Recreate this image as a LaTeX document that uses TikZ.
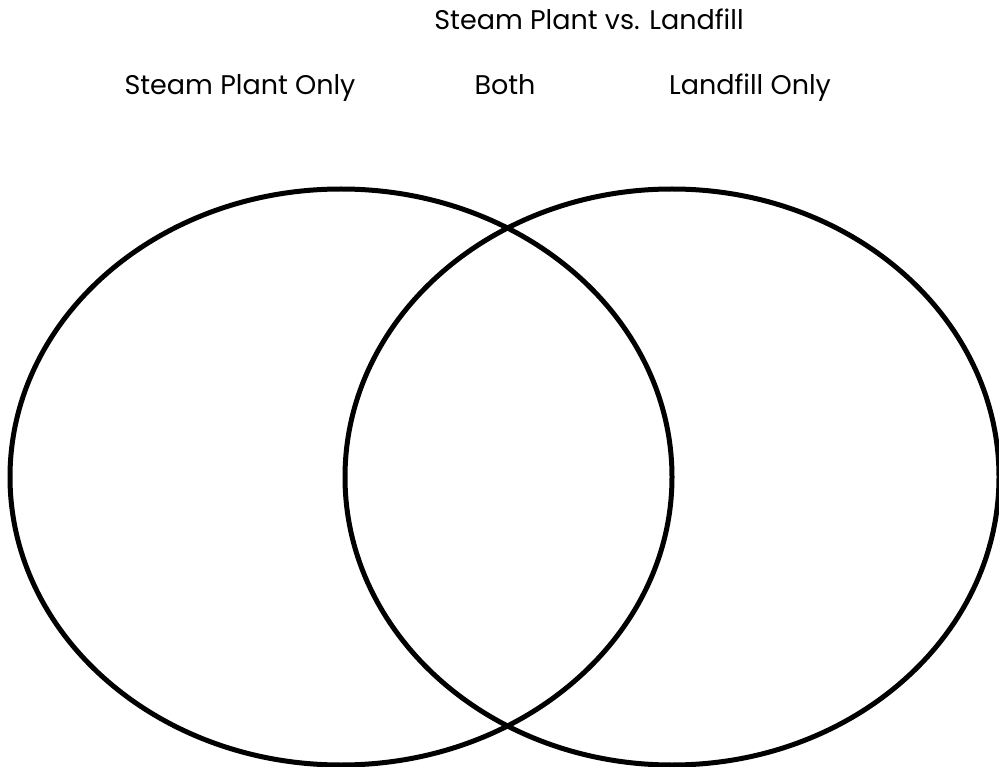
\documentclass[tikz,border=0pt]{standalone}
\usepackage{fontspec}
\setmainfont{Poppins}

\begin{document}
\begin{tikzpicture}[
  x=1pt, y=-1pt,
  ring/.style={line width=5pt, black},
  label/.style={font=\fontsize{27}{32}\selectfont, text=black, inner sep=0pt, anchor=base},
]

% 画布
\useasboundingbox (0,0) rectangle (999,767);

% 标题
\node[label] (title) at (589,30) {Steam Plant vs. Landfill};

% 三个区域标题
\node[label] (leftlab)  at (240,95) {Steam Plant Only};
\node[label] (bothlab)  at (505,95) {Both};
\node[label] (rightlab) at (750,95) {Landfill Only};

% 两个椭圆
\coordinate (L) at (341,477);
\coordinate (R) at (672,477);
\draw[ring] (L) ellipse[x radius=331, y radius=288];
\draw[ring] (R) ellipse[x radius=327, y radius=288];

\end{tikzpicture}
\end{document}
